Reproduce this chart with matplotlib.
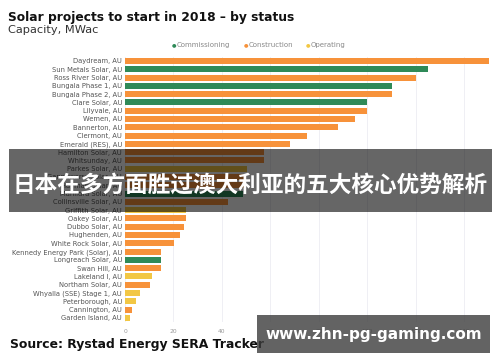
import matplotlib
matplotlib.use("Agg")
import matplotlib.pyplot as plt
from matplotlib.patches import Rectangle

projects = ["Daydream, AU", "Sun Metals Solar, AU", "Ross River Solar, AU", "Bungala Phase 1, AU",
            "Bungala Phase 2, AU", "Clare Solar, AU", "Lilyvale, AU", "Wemen, AU", "Bannerton, AU",
            "Clermont, AU", "Emerald (RES), AU", "Hamilton Solar, AU", "Whitsunday, AU",
            "Parkes Solar, AU", "Gannawarra Solar, AU", "Hayman Solar, AU", "Manildra Solar, AU",
            "Collinsville Solar, AU", "Griffith Solar, AU", "Oakey Solar, AU", "Dubbo Solar, AU",
            "Hughenden, AU", "White Rock Solar, AU", "Kennedy Energy Park (Solar), AU",
            "Longreach Solar, AU", "Swan Hill, AU", "Lakeland I, AU", "Northam Solar, AU",
            "Whyalla (SSE) Stage 1, AU", "Peterborough, AU", "Cannington, AU", "Garden Island, AU"]
capacity = [150, 125, 120, 110, 110, 100, 100, 95, 88, 75, 68, 57.5, 57.5, 50.5, 50, 49.5, 48.5,
            42.5, 25, 25, 24.3, 22.7, 20.2, 15, 15, 15, 11, 10.2, 6, 4.5, 3, 2]
status = ["Construction", "Commissioning", "Construction", "Commissioning", "Construction",
          "Commissioning", "Construction", "Construction", "Construction", "Construction",
          "Construction", "Construction", "Construction", "Operating", "Construction",
          "Construction", "Commissioning", "Construction", "Operating", "Construction",
          "Construction", "Construction", "Construction", "Construction", "Commissioning",
          "Construction", "Operating", "Construction", "Operating", "Operating", "Construction",
          "Operating"]
status_names = ["Commissioning", "Construction", "Operating"]
status_colors = {"Commissioning": "#2f8a58", "Construction": "#f7923a", "Operating": "#f2c744"}
xticks = [0, 20, 40, 60, 80, 100, 120, 140]

fig = plt.figure(figsize=(5, 3.62), dpi=100)
ax = fig.add_axes([0.25, 0.1105, 0.74, 0.7325])
ypos = list(range(len(projects)))
ax.barh(ypos, capacity, height=0.72, color=[status_colors[s] for s in status], zorder=2)
ax.set_ylim(len(projects) - 0.5, -0.5)
ax.set_xlim(0, 152.6)
ax.set_yticks(ypos)
ax.set_yticklabels(projects, fontsize=4.9, color="#555555")
ax.set_xticks(xticks)
ax.set_xticklabels([str(t) for t in xticks], fontsize=4.3, color="#999999")
ax.tick_params(length=0, pad=2)
ax.tick_params(axis="x", pad=5)
for s in ax.spines.values():
    s.set_visible(False)
ax.grid(axis="x", color="#ececf2", linewidth=0.6, zorder=0)

fig.text(0.016, 0.953, "Solar projects to start in 2018 \u2013 by status", fontsize=8.8,
         fontweight="bold", color="#111111", va="center")
fig.text(0.016, 0.917, "Capacity, MWac", fontsize=8.2, color="#333333", va="center")

# legend
lx = [0.344, 0.488, 0.612]
for x, name in zip(lx, status_names):
    fig.text(x, 0.876, "\u25cf", fontsize=3.8, color=status_colors[name], va="center")
    fig.text(x + 0.009, 0.876, name, fontsize=5.0, color="#888888", va="center")

fig.text(0.02, 0.047, "Source: Rystad Energy SERA Tracker", fontsize=8.9, fontweight="bold",
         color="#111111", va="center")

# overlay banner
fig.patches.append(Rectangle((0.018, 0.4144), 0.966, 0.174, transform=fig.transFigure,
                             facecolor="black", alpha=0.6, zorder=10, edgecolor="none"))
fig.text(0.5, 0.489, "日本在多方面胜过澳大利亚的五大核心优势解析", fontsize=16.3, fontweight="bold",
         color="white", ha="center", va="center", family=["Noto Sans CJK SC", "DejaVu Sans"],
         zorder=11)

# watermark
fig.patches.append(Rectangle((0.514, 0.0249), 0.466, 0.105, transform=fig.transFigure,
                             facecolor="#3c3c3c", alpha=0.8, zorder=10, edgecolor="none"))
fig.text(0.747, 0.0746, "www.zhn-pg-gaming.com", fontsize=11, fontweight="bold", color="white",
         ha="center", va="center", zorder=11)

fig.savefig("out.png", dpi=100)
